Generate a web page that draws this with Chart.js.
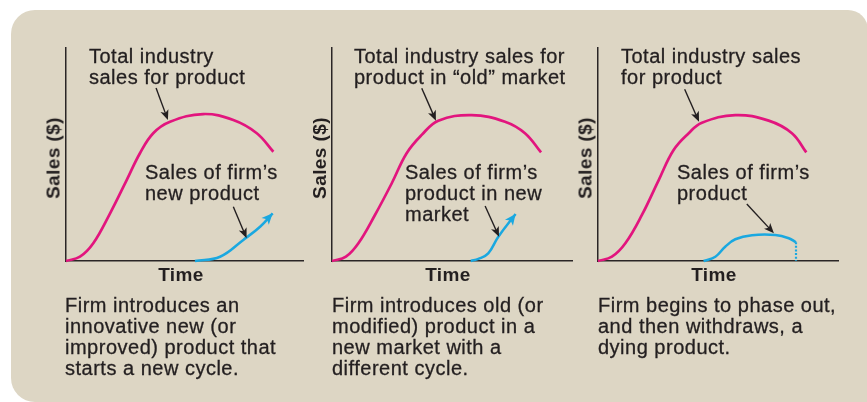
<!DOCTYPE html>
<html>
<head>
<meta charset="utf-8">
<script src="https://cdn.jsdelivr.net/npm/chart.js@4.4.1/dist/chart.umd.min.js"></script>
<style>
html,body{margin:0;padding:0;background:#ffffff;width:867px;height:402px;overflow:hidden;}
#panel{position:absolute;left:11px;top:10px;width:857px;height:392px;background:#ddd6c4;border-radius:24px 20px 0 24px;}
canvas{position:absolute;left:0;top:0;}
.t{position:absolute;font-family:"Liberation Sans",Arial,sans-serif;font-size:20px;line-height:21px;letter-spacing:0.5px;color:#231f20;white-space:nowrap;-webkit-text-stroke:0.3px #231f20;}
.b{font-weight:bold;font-size:19px;line-height:19px;letter-spacing:0.4px;-webkit-text-stroke:0;}
.rot{transform:translate(-50%,-50%) rotate(-90deg);}
.ctr{transform:translateX(-50%);}
</style>
</head>
<body>
<div id="panel"></div>
<canvas id="c1" width="867" height="402"></canvas>
<canvas id="c2" width="867" height="402"></canvas>
<canvas id="c3" width="867" height="402"></canvas>

<div class="t" style="left:89px;top:46px;">Total industry<br>sales for product</div>
<div class="t" style="left:354px;top:46px;">Total industry sales for<br>product in “old” market</div>
<div class="t" style="left:621px;top:46px;">Total industry sales<br>for product</div>

<div class="t" style="left:145px;top:162px;">Sales of firm’s<br>new product</div>
<div class="t" style="left:405px;top:162px;">Sales of firm’s<br>product in new<br>market</div>
<div class="t" style="left:677px;top:162px;">Sales of firm’s<br>product</div>

<div class="t b rot" style="left:53px;top:158px;">Sales ($)</div>
<div class="t b rot" style="left:319px;top:158px;">Sales ($)</div>
<div class="t b rot" style="left:585px;top:158px;">Sales ($)</div>

<div class="t b ctr" style="left:181px;top:265px;">Time</div>
<div class="t b ctr" style="left:448px;top:265px;">Time</div>
<div class="t b ctr" style="left:714px;top:265px;">Time</div>

<div class="t" style="left:65px;top:295px;">Firm introduces an<br>innovative new (or<br>improved) product that<br>starts a new cycle.</div>
<div class="t" style="left:332px;top:295px;">Firm introduces old (or<br>modified) product in a<br>new market with a<br>different cycle.</div>
<div class="t" style="left:598px;top:295px;">Firm begins to phase out,<br>and then withdraws, a<br>dying product.</div>

<script>
// ---------- data (time 0-100, sales 0-100 in each panel) ----------
const chart1PinkX = [0, 5.9, 11.5, 18.6, 25.6, 31.2, 36.8, 43.9, 57.9, 70.6, 80.5, 87.5];
const chart1PinkY = [0, 2.0, 8.3, 22.4, 38.0, 50.6, 60.0, 65.4, 69.0, 66.2, 60.0, 51.3];
const chart1BlueX = [54.4, 65.0, 74.8, 81.9, 87.2];
const chart1BlueY = [0, 2.0, 9.9, 16.1, 22.4];

const chart2PinkX = [0, 5.8, 11.0, 17.9, 24.9, 31.1, 37.4, 44.3, 58.2, 72.1, 80.4, 87.1];
const chart2PinkY = [0, 2.0, 8.3, 21.6, 36.5, 50.6, 59.2, 65.9, 68.5, 65.4, 60.0, 51.0];
const chart2BlueX = [57.8, 61.0, 65.1, 69.3, 76.5];
const chart2BlueY = [0, 1.0, 3.6, 11.4, 22.1];

const chart3PinkX = [0, 5.8, 11.4, 18.3, 25.3, 31.5, 37.8, 43.3, 57.2, 71.1, 80.8, 86.8];
const chart3PinkY = [0, 2.0, 8.3, 21.6, 38.0, 52.1, 60.0, 64.9, 68.5, 65.9, 60.0, 51.0];
const chart3BlueX = [44.0, 48.9, 53.0, 57.2, 64.2, 73.9, 79.5, 82.5];
const chart3BlueY = [0, 2.0, 6.7, 10.2, 12.1, 12.2, 10.7, 8.8];
const chart3WithdrawX = [82.5, 82.5];
const chart3WithdrawY = [8.8, 0];

// annotation arrows: [fromX, fromY, toX, toY]
const chart1Arrows = [[38.0, 81.2, 43.0, 66.2], [70.6, 25.5, 76.2, 10.7]];
const chart2Arrows = [[37.4, 81.1, 43.3, 65.9], [63.8, 25.8, 69.6, 11.4]];
const chart3Arrows = [[36.1, 80.6, 42.1, 65.4], [62.0, 26.8, 73.3, 13.0]];

// ---------- styles ----------
const PINK = '#e2157e';
const BLUE = '#1aa8e0';
const AXIS = '#2a2626';
const INK = '#231f20';

function pts(xs, ys) { return xs.map((v, i) => ({x: v, y: ys[i]})); }

function drawHead(ctx, fx, fy, tx, ty, color, len, half) {
  const a = Math.atan2(ty - fy, tx - fx);
  const bx = tx - len * Math.cos(a), by = ty - len * Math.sin(a);
  ctx.fillStyle = color;
  ctx.beginPath();
  ctx.moveTo(tx, ty);
  ctx.lineTo(bx + half * Math.sin(a), by - half * Math.cos(a));
  ctx.lineTo(bx + 0.25 * len * Math.cos(a), by + 0.25 * len * Math.sin(a));
  ctx.lineTo(bx - half * Math.sin(a), by + half * Math.cos(a));
  ctx.closePath();
  ctx.fill();
}

const arrowPlugin = {
  id: 'arrowPlugin',
  afterDatasetsDraw(chart, args, opts) {
    const ctx = chart.ctx;
    const xs = chart.scales.x, ys = chart.scales.y;
    ctx.save();
    chart.data.datasets.forEach((ds, i) => {
      if (!ds.arrowEnd) return;
      const p = chart.getDatasetMeta(i).data;
      const last = p[p.length - 1];
      let fx = last.cp1x, fy = last.cp1y;
      if (fx === undefined || (Math.abs(fx - last.x) < 0.5 && Math.abs(fy - last.y) < 0.5)) {
        fx = p[p.length - 2].x; fy = p[p.length - 2].y;
      }
      drawHead(ctx, fx, fy, last.x, last.y, ds.borderColor, 11, 5);
    });
    (opts.list || []).forEach(a => {
      const x1 = xs.getPixelForValue(a[0]), y1 = ys.getPixelForValue(a[1]);
      const x2 = xs.getPixelForValue(a[2]), y2 = ys.getPixelForValue(a[3]);
      const ang = Math.atan2(y2 - y1, x2 - x1);
      ctx.strokeStyle = INK;
      ctx.lineWidth = 1.4;
      ctx.beginPath();
      ctx.moveTo(x1, y1);
      ctx.lineTo(x2 - 6 * Math.cos(ang), y2 - 6 * Math.sin(ang));
      ctx.stroke();
      drawHead(ctx, x1, y1, x2, y2, INK, 10, 4.2);
    });
    ctx.restore();
  }
};

function makeChart(id, pad, pinkX, pinkY, blueX, blueY, arrows, wX, wY) {
  const datasets = [
    {data: pts(pinkX, pinkY), borderColor: PINK, borderWidth: 2.7, tension: 0.4, clip: false},
    {data: pts(blueX, blueY), borderColor: BLUE, borderWidth: 2.5, tension: 0.4, clip: false, arrowEnd: !wX}
  ];
  if (wX) {
    datasets.push({data: pts(wX, wY), borderColor: BLUE, borderWidth: 2.2, borderDash: [2, 1.6], tension: 0, clip: false});
  }
  const axis = {
    type: 'linear', min: 0, max: 100,
    ticks: {display: false},
    grid: {display: true, drawOnChartArea: false, drawTicks: false},
    border: {display: true, color: AXIS, width: 1.5}
  };
  return new Chart(document.getElementById(id), {
    type: 'line',
    data: {datasets},
    options: {
      responsive: false, animation: false, devicePixelRatio: 1,
      layout: {padding: pad},
      elements: {point: {radius: 0, hoverRadius: 0}, line: {fill: false, borderCapStyle: 'butt', capBezierPoints: true}},
      plugins: {legend: {display: false}, tooltip: {enabled: false}, arrowPlugin: {list: arrows}},
      events: [],
      scales: {
        x: Object.assign({}, axis, {afterFit: s => { s.height = 0; }}),
        y: Object.assign({}, axis, {afterFit: s => { s.width = 0; }})
      }
    },
    plugins: [arrowPlugin]
  });
}

makeChart('c1', {left: 66, top: 48, right: 867 - 303, bottom: 402 - 261}, chart1PinkX, chart1PinkY, chart1BlueX, chart1BlueY, chart1Arrows);
makeChart('c2', {left: 332, top: 48, right: 867 - 572, bottom: 402 - 261}, chart2PinkX, chart2PinkY, chart2BlueX, chart2BlueY, chart2Arrows);
makeChart('c3', {left: 598, top: 48, right: 867 - 838, bottom: 402 - 261}, chart3PinkX, chart3PinkY, chart3BlueX, chart3BlueY, chart3Arrows, chart3WithdrawX, chart3WithdrawY);
</script>
</body>
</html>
